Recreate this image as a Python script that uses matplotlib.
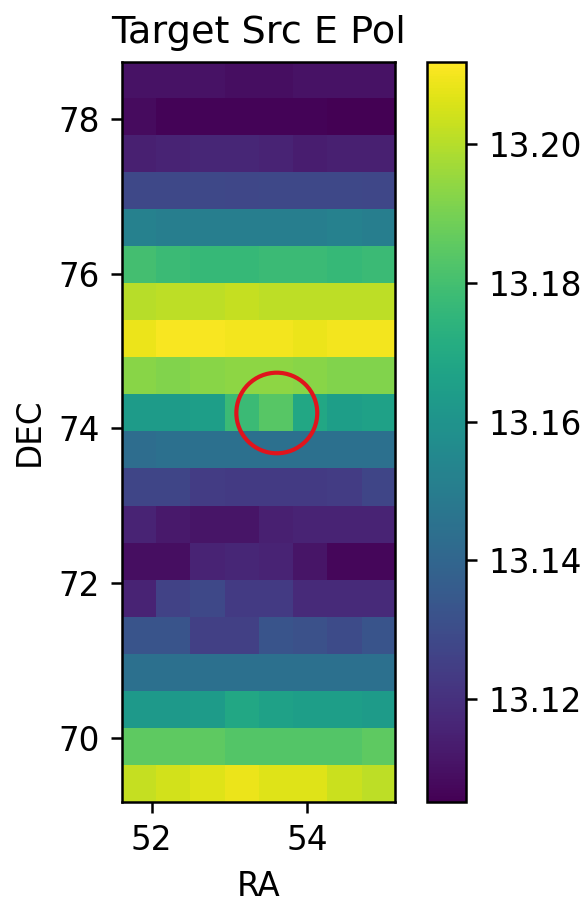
import numpy as np
import matplotlib
matplotlib.use("Agg")
import matplotlib.pyplot as plt
from matplotlib.patches import Circle

# map extent (RA left/right, DEC bottom/top)
ra_edges = [51.62, 55.13]
dec_edges = [69.18, 78.73]

# cell values, top row (highest DEC) first, 8 RA columns
row_00 = [13.1104, 13.1104, 13.1104, 13.1093, 13.1093, 13.1104, 13.1104, 13.1104]
row_01 = [13.1082, 13.1061, 13.1061, 13.1061, 13.1061, 13.1061, 13.1050, 13.1050]
row_02 = [13.1146, 13.1157, 13.1168, 13.1168, 13.1157, 13.1136, 13.1146, 13.1146]
row_03 = [13.1285, 13.1285, 13.1285, 13.1280, 13.1285, 13.1285, 13.1285, 13.1280]
row_04 = [13.1521, 13.1510, 13.1510, 13.1510, 13.1510, 13.1510, 13.1521, 13.1510]
row_05 = [13.1799, 13.1778, 13.1767, 13.1767, 13.1778, 13.1778, 13.1767, 13.1778]
row_06 = [13.2002, 13.2013, 13.2013, 13.2024, 13.2013, 13.2013, 13.2013, 13.2013]
row_07 = [13.2088, 13.2109, 13.2109, 13.2099, 13.2099, 13.2088, 13.2099, 13.2099]
row_08 = [13.1927, 13.1917, 13.1927, 13.1938, 13.1938, 13.1927, 13.1917, 13.1917]
row_09 = [13.1639, 13.1639, 13.1649, 13.1778, 13.1842, 13.1692, 13.1649, 13.1660]
row_10 = [13.1435, 13.1446, 13.1446, 13.1446, 13.1446, 13.1446, 13.1446, 13.1446]
row_11 = [13.1275, 13.1275, 13.1243, 13.1232, 13.1232, 13.1232, 13.1243, 13.1275]
row_12 = [13.1157, 13.1125, 13.1114, 13.1114, 13.1146, 13.1157, 13.1157, 13.1157]
row_13 = [13.1093, 13.1093, 13.1157, 13.1168, 13.1157, 13.1114, 13.1071, 13.1071]
row_14 = [13.1157, 13.1264, 13.1285, 13.1232, 13.1232, 13.1178, 13.1178, 13.1178]
row_15 = [13.1328, 13.1328, 13.1253, 13.1253, 13.1328, 13.1318, 13.1296, 13.1328]
row_16 = [13.1446, 13.1446, 13.1446, 13.1446, 13.1446, 13.1446, 13.1446, 13.1446]
row_17 = [13.1628, 13.1628, 13.1639, 13.1692, 13.1660, 13.1649, 13.1649, 13.1639]
row_18 = [13.1853, 13.1853, 13.1853, 13.1831, 13.1831, 13.1831, 13.1831, 13.1853]
row_19 = [13.2024, 13.2045, 13.2067, 13.2088, 13.2067, 13.2067, 13.2034, 13.2013]

cbar_min, cbar_max = 13.1052, 13.2118
cbar_ticks = [13.12, 13.14, 13.16, 13.18, 13.20]

# target source marker
src_ra, src_dec, src_r = 53.61, 74.20, 0.52

grid = np.array([row_00, row_01, row_02, row_03, row_04, row_05, row_06,
                 row_07, row_08, row_09, row_10, row_11, row_12, row_13,
                 row_14, row_15, row_16, row_17, row_18, row_19])

fs = 23.5
lw = 1.8
fig = plt.figure(figsize=(5.88, 9.02), dpi=100)
ax = fig.add_axes([0.2075, 0.1109, 0.4643, 0.8204])
cax = fig.add_axes([0.7262, 0.1109, 0.0663, 0.8204])

im = ax.imshow(grid, origin="upper", cmap="viridis", aspect="auto",
               extent=[ra_edges[0], ra_edges[1], dec_edges[0], dec_edges[1]],
               vmin=cbar_min, vmax=cbar_max, interpolation="nearest")
ax.add_patch(Circle((src_ra, src_dec), src_r, fill=False, color="#e0141c",
                    lw=3.0))

ax.set_xticks([52, 54])
ax.set_yticks([70, 72, 74, 76, 78])
ax.set_xlabel("RA", fontsize=fs, labelpad=9)
ax.set_ylabel("DEC", fontsize=fs, labelpad=9)
ax.set_title("Target Src E Pol", fontsize=27.5, pad=14)

cb = fig.colorbar(im, cax=cax, ticks=cbar_ticks)
cb.ax.set_yticklabels([f"{t:.2f}" for t in cbar_ticks])
cb.outline.set_linewidth(lw)

for a in (ax, cax):
    a.tick_params(labelsize=fs, length=8, width=lw, pad=8)
for s in ax.spines.values():
    s.set_linewidth(lw)

fig.savefig("out.png", dpi=100)
